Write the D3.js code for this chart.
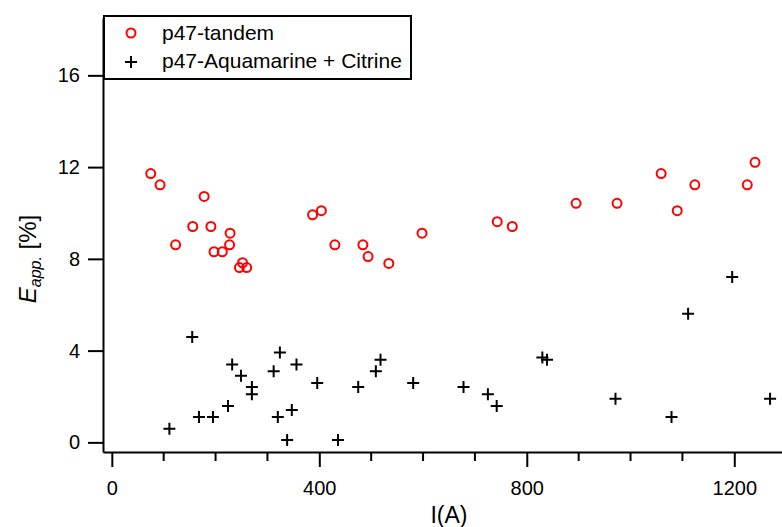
<!DOCTYPE html>
<html>
<head>
<meta charset="utf-8">
<script src="https://cdn.jsdelivr.net/npm/d3@7"></script>
<style>
  body { margin: 0; background: #fff; }
  svg text { font-family: "Liberation Sans", Arial, sans-serif; fill: #000; }
</style>
</head>
<body>
<div id="plot"></div>
<script>
// p47-tandem (red circles)
var tandemI = [75, 93, 123, 156, 178, 191, 197, 213, 227, 228, 246, 252, 260,
               387, 404, 430, 484, 494, 534, 598, 743, 772, 895, 974, 1059, 1090, 1124, 1225, 1240];
var tandemE = [11.72, 11.23, 8.61, 9.41, 10.72, 9.41, 8.31, 8.31, 8.61, 9.12, 7.62, 7.83, 7.62,
               9.92, 10.1, 8.61, 8.61, 8.1, 7.8, 9.12, 9.62, 9.41, 10.42, 10.42, 11.72, 10.1, 11.23, 11.23, 12.21];

// p47-Aquamarine + Citrine (black crosses)
var mixI = [111, 155, 168, 195, 224, 232, 249, 270, 270, 312, 320, 324, 338, 347, 356, 396, 436,
            475, 509, 518, 581, 678, 725, 742, 830, 839, 971, 1079, 1111, 1196, 1269];
var mixE = [0.59, 4.59, 1.11, 1.11, 1.59, 3.39, 2.9, 2.41, 2.1, 3.1, 1.11, 3.92, 0.1, 1.41, 3.39, 2.59, 0.1,
            2.41, 3.1, 3.6, 2.59, 2.41, 2.1, 1.59, 3.7, 3.6, 1.9, 1.11, 5.61, 7.21, 1.9];

var xTicks = [0, 400, 800, 1200];
var xMinor = [100, 200, 300, 500, 600, 700, 900, 1000, 1100];
var yTicks = [0, 4, 8, 12, 16];
var seriesNames = ["p47-tandem", "p47-Aquamarine + Citrine"];

var width = 782, height = 527;
var plotLeft = 103, plotRight = 782, plotBottom = 452, plotTop = 18;

var svg = d3.select("#plot").append("svg")
    .attr("width", width)
    .attr("height", height);

var x = d3.scaleLinear().domain([-17, 1292]).range([plotLeft, plotRight]);
var y = d3.scaleLinear().domain([-0.42, 18.5]).range([plotBottom, plotTop]);

// x axis: major + minor ticks
var xAxis = d3.axisBottom(x).tickValues(xTicks).tickFormat(d3.format("d"))
    .tickSize(15).tickSizeOuter(0).tickPadding(14);
var gx = svg.append("g").attr("transform", "translate(0," + plotBottom + ")").call(xAxis);
gx.selectAll(".tick text").style("font-size", "20px");
gx.selectAll("line").attr("stroke-width", 2);
gx.select(".domain").attr("stroke-width", 2);
gx.selectAll(".minor").data(xMinor).enter().append("line")
    .attr("class", "minor")
    .attr("x1", function (d) { return x(d); })
    .attr("x2", function (d) { return x(d); })
    .attr("y1", 0).attr("y2", 9)
    .attr("stroke", "#000").attr("stroke-width", 2);

// y axis
var yAxis = d3.axisLeft(y).tickValues(yTicks).tickSize(15).tickSizeOuter(0).tickPadding(8);
var gy = svg.append("g").attr("transform", "translate(" + plotLeft + ",0)").call(yAxis);
gy.selectAll(".tick text").style("font-size", "20px");
gy.selectAll("line").attr("stroke-width", 2);
gy.select(".domain").attr("stroke-width", 2);

// axis titles
svg.append("text")
    .attr("x", 449).attr("y", 523)
    .attr("text-anchor", "middle")
    .style("font-size", "23px")
    .text("I(A)");

var yt = svg.append("text")
    .attr("transform", "translate(36,259) rotate(-90)")
    .attr("text-anchor", "middle")
    .style("font-size", "24px");
yt.append("tspan").style("font-style", "italic").text("E");
yt.append("tspan").style("font-style", "italic").style("font-size", "16px").attr("dy", 5).text("app.");
yt.append("tspan").attr("dy", -5).text(" [%]");

// data
svg.selectAll(".tandem").data(tandemI).enter().append("circle")
    .attr("class", "tandem")
    .attr("cx", function (d) { return x(d); })
    .attr("cy", function (d, i) { return y(tandemE[i]); })
    .attr("r", 4.5)
    .attr("fill", "none")
    .attr("stroke", "#ff0000")
    .attr("stroke-width", 2);

svg.selectAll(".mix").data(mixI).enter().append("path")
    .attr("class", "mix")
    .attr("d", "M-6,0H6M0,-6V6")
    .attr("transform", function (d, i) { return "translate(" + x(d) + "," + y(mixE[i]) + ")"; })
    .attr("fill", "none")
    .attr("stroke", "#000")
    .attr("stroke-width", 2);

// legend
var lg = svg.append("g");
lg.append("rect")
    .attr("x", 104).attr("y", 16).attr("width", 307).attr("height", 63)
    .attr("fill", "#fff").attr("stroke", "#000").attr("stroke-width", 2);
lg.append("circle")
    .attr("cx", 131).attr("cy", 33).attr("r", 4.5)
    .attr("fill", "none").attr("stroke", "#ff0000").attr("stroke-width", 2);
lg.append("path")
    .attr("d", "M125,62H137M131,56V68")
    .attr("stroke", "#000").attr("stroke-width", 2);
lg.selectAll(".lt").data(seriesNames).enter().append("text")
    .attr("class", "lt")
    .attr("x", 162)
    .attr("y", function (d, i) { return 40 + i * 28; })
    .style("font-size", "21px")
    .text(function (d) { return d; });
</script>
</body>
</html>
